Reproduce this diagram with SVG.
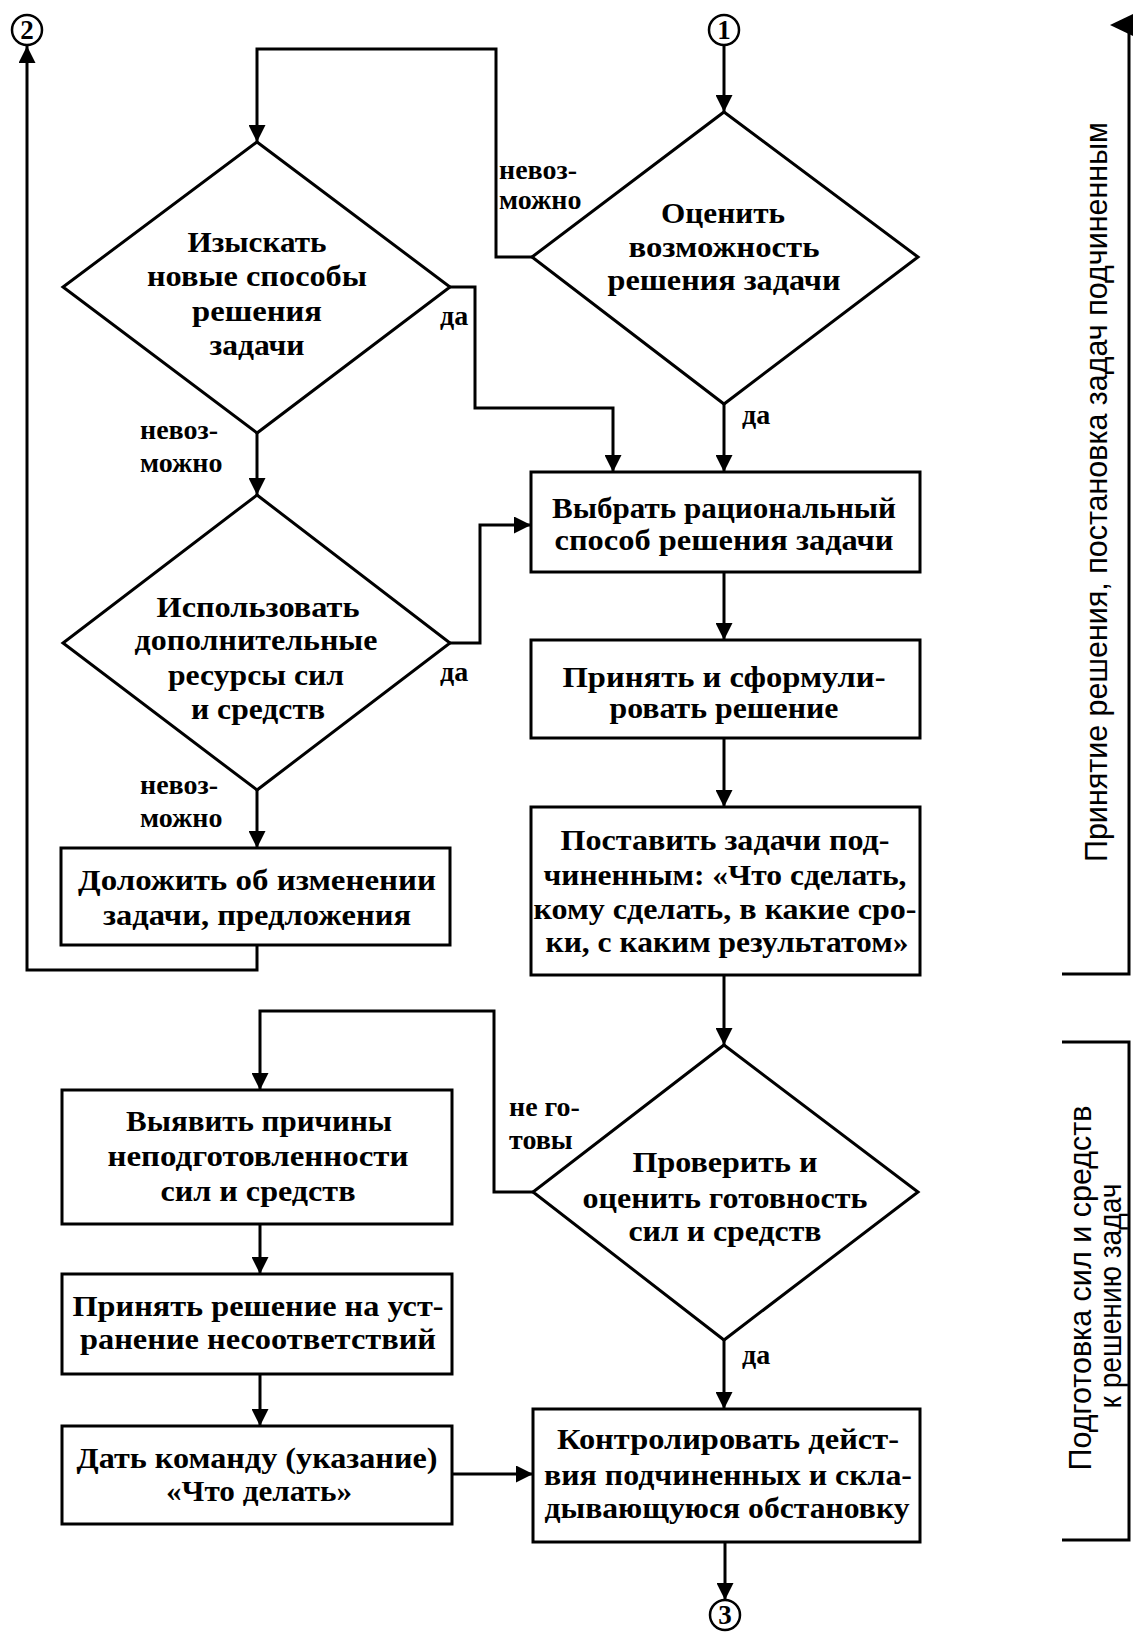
<svg xmlns="http://www.w3.org/2000/svg" width="1133" height="1633" viewBox="0 0 1133 1633">
<style>
.shape{fill:#fff;stroke:#000;stroke-width:3}
.con{fill:none;stroke:#000;stroke-width:3}
.t{font-family:"Liberation Serif","Times New Roman",serif;font-size:30px;font-weight:bold;fill:#000;text-anchor:middle}
.lbl{font-family:"Liberation Serif","Times New Roman",serif;font-size:28px;font-weight:bold;fill:#000}
.side{font-family:"Liberation Sans",Arial,sans-serif;font-size:31px;fill:#000;text-anchor:middle}
.circ{fill:#fff;stroke:#000;stroke-width:2.5}
.num{font-family:"Liberation Serif","Times New Roman",serif;font-size:27px;font-weight:bold;fill:#000;text-anchor:middle}
</style>
<defs>
<marker id="arr" viewBox="0 0 10 10" refX="10" refY="5" markerUnits="userSpaceOnUse" markerWidth="17" markerHeight="17" orient="auto">
<path d="M0,0 L10,5 L0,10 z" fill="#000"/>
</marker>
</defs>
<rect width="1133" height="1633" fill="#fff"/>

<g id="connectors">
<path class="con" d="M724,45 L724,112" marker-end="url(#arr)"/>
<path class="con" d="M532,257 L496,257 L496,49 L257,49 L257,142" marker-end="url(#arr)"/>
<path class="con" d="M724,404 L724,472" marker-end="url(#arr)"/>
<path class="con" d="M450,287 L475,287 L475,408 L613,408 L613,472" marker-end="url(#arr)"/>
<path class="con" d="M257,433 L257,495" marker-end="url(#arr)"/>
<path class="con" d="M450,643 L480,643 L480,525 L531,525" marker-end="url(#arr)"/>
<path class="con" d="M257,790 L257,848" marker-end="url(#arr)"/>
<path class="con" d="M257,945 L257,970 L27,970 L27,46" marker-end="url(#arr)"/>
<path class="con" d="M724,572 L724,640" marker-end="url(#arr)"/>
<path class="con" d="M724,738 L724,807" marker-end="url(#arr)"/>
<path class="con" d="M724,975 L724,1045" marker-end="url(#arr)"/>
<path class="con" d="M533,1192 L494,1192 L494,1011 L260,1011 L260,1090" marker-end="url(#arr)"/>
<path class="con" d="M724,1340 L724,1409" marker-end="url(#arr)"/>
<path class="con" d="M260,1224 L260,1274" marker-end="url(#arr)"/>
<path class="con" d="M260,1374 L260,1426" marker-end="url(#arr)"/>
<path class="con" d="M452,1474 L533,1474" marker-end="url(#arr)"/>
<path class="con" d="M725,1542 L725,1600" marker-end="url(#arr)"/>
<text class="lbl" x="499" y="179">невоз-</text>
<text class="lbl" x="499" y="209">можно</text>
<text class="lbl" x="440" y="325">да</text>
<text class="lbl" x="742" y="424">да</text>
<text class="lbl" x="140" y="439">невоз-</text>
<text class="lbl" x="140" y="472">можно</text>
<text class="lbl" x="440" y="681">да</text>
<text class="lbl" x="140" y="794">невоз-</text>
<text class="lbl" x="140" y="827">можно</text>
<text class="lbl" x="509" y="1116">не го-</text>
<text class="lbl" x="509" y="1149">товы</text>
<text class="lbl" x="742" y="1364">да</text>
</g>

<g id="c2"><circle class="circ" cx="27" cy="30" r="15"/><text class="num" x="27" y="39">2</text></g>
<g id="c1"><circle class="circ" cx="724" cy="30" r="15"/><text class="num" x="724" y="39">1</text></g>
<g id="c3"><circle class="circ" cx="725" cy="1615" r="15"/><text class="num" x="725" y="1624">3</text></g>

<g id="n_search">
<polygon class="shape" points="257,142 450,287 257,433 63,287"/>
<text class="t" x="257" y="252" textLength="139" lengthAdjust="spacingAndGlyphs">Изыскать</text>
<text class="t" x="257" y="286" textLength="220" lengthAdjust="spacingAndGlyphs">новые способы</text>
<text class="t" x="257" y="321" textLength="130" lengthAdjust="spacingAndGlyphs">решения</text>
<text class="t" x="257" y="355" textLength="95" lengthAdjust="spacingAndGlyphs">задачи</text>
</g>

<g id="n_assess">
<polygon class="shape" points="724,112 918,257 724,404 532,257"/>
<text class="t" x="723" y="223" textLength="124" lengthAdjust="spacingAndGlyphs">Оценить</text>
<text class="t" x="724" y="257" textLength="191" lengthAdjust="spacingAndGlyphs">возможность</text>
<text class="t" x="724" y="290" textLength="233" lengthAdjust="spacingAndGlyphs">решения задачи</text>
</g>

<g id="n_choose">
<rect class="shape" x="531" y="472" width="389" height="100"/>
<text class="t" x="724" y="518" textLength="344" lengthAdjust="spacingAndGlyphs">Выбрать рациональный</text>
<text class="t" x="724" y="550" textLength="339" lengthAdjust="spacingAndGlyphs">способ решения задачи</text>
</g>

<g id="n_use">
<polygon class="shape" points="257,495 450,643 257,790 63,643"/>
<text class="t" x="258" y="617" textLength="203" lengthAdjust="spacingAndGlyphs">Использовать</text>
<text class="t" x="256" y="650" textLength="243" lengthAdjust="spacingAndGlyphs">дополнительные</text>
<text class="t" x="256" y="685" textLength="176" lengthAdjust="spacingAndGlyphs">ресурсы сил</text>
<text class="t" x="258" y="719" textLength="134" lengthAdjust="spacingAndGlyphs">и средств</text>
</g>

<g id="n_decide">
<rect class="shape" x="531" y="640" width="389" height="98"/>
<text class="t" x="724" y="687" textLength="323" lengthAdjust="spacingAndGlyphs">Принять и сформули-</text>
<text class="t" x="724" y="718" textLength="229" lengthAdjust="spacingAndGlyphs">ровать решение</text>
</g>

<g id="n_report">
<rect class="shape" x="61" y="848" width="389" height="97"/>
<text class="t" x="257" y="890" textLength="358" lengthAdjust="spacingAndGlyphs">Доложить об изменении</text>
<text class="t" x="257" y="925" textLength="308" lengthAdjust="spacingAndGlyphs">задачи, предложения</text>
</g>

<g id="n_assign">
<rect class="shape" x="531" y="807" width="389" height="168"/>
<text class="t" x="725" y="850" textLength="329" lengthAdjust="spacingAndGlyphs">Поставить задачи под-</text>
<text class="t" x="725" y="885" textLength="363" lengthAdjust="spacingAndGlyphs">чиненным: «Что сделать,</text>
<text class="t" x="725" y="919" textLength="383" lengthAdjust="spacingAndGlyphs">кому сделать, в какие сро-</text>
<text class="t" x="727" y="952" textLength="363" lengthAdjust="spacingAndGlyphs">ки, с каким результатом»</text>
</g>

<g id="n_check">
<polygon class="shape" points="724,1045 918,1192 724,1340 533,1192"/>
<text class="t" x="725" y="1172" textLength="185" lengthAdjust="spacingAndGlyphs">Проверить и</text>
<text class="t" x="725" y="1208" textLength="285" lengthAdjust="spacingAndGlyphs">оценить готовность</text>
<text class="t" x="725" y="1241" textLength="193" lengthAdjust="spacingAndGlyphs">сил и средств</text>
</g>

<g id="n_reveal">
<rect class="shape" x="62" y="1090" width="390" height="134"/>
<text class="t" x="259" y="1131" textLength="266" lengthAdjust="spacingAndGlyphs">Выявить причины</text>
<text class="t" x="258" y="1166" textLength="301" lengthAdjust="spacingAndGlyphs">неподготовленности</text>
<text class="t" x="258" y="1201" textLength="195" lengthAdjust="spacingAndGlyphs">сил и средств</text>
</g>

<g id="n_fix">
<rect class="shape" x="62" y="1274" width="390" height="100"/>
<text class="t" x="258" y="1316" textLength="371" lengthAdjust="spacingAndGlyphs">Принять решение на уст-</text>
<text class="t" x="258" y="1349" textLength="356" lengthAdjust="spacingAndGlyphs">ранение несоответствий</text>
</g>

<g id="n_command">
<rect class="shape" x="62" y="1426" width="390" height="98"/>
<text class="t" x="257" y="1468" textLength="361" lengthAdjust="spacingAndGlyphs">Дать команду (указание)</text>
<text class="t" x="259" y="1501" textLength="186" lengthAdjust="spacingAndGlyphs">«Что делать»</text>
</g>

<g id="n_control">
<rect class="shape" x="533" y="1409" width="387" height="133"/>
<text class="t" x="728" y="1449" textLength="342" lengthAdjust="spacingAndGlyphs">Контролировать дейст-</text>
<text class="t" x="728" y="1485" textLength="368" lengthAdjust="spacingAndGlyphs">вия подчиненных и скла-</text>
<text class="t" x="727" y="1518" textLength="365" lengthAdjust="spacingAndGlyphs">дывающуюся обстановку</text>
</g>

<g id="bracket1">
<path class="con" d="M1129,25 L1129,974 L1062,974"/>
<polygon points="1110,25 1133,14 1133,36" fill="#000"/>
<text class="side" transform="translate(1107,492) rotate(-90)" textLength="740" lengthAdjust="spacingAndGlyphs">Принятие решения, постановка задач подчиненным</text>
</g>

<g id="bracket2">
<path class="con" d="M1062,1042 L1129,1042 L1129,1540 L1062,1540"/>
<text class="side" transform="translate(1091,1288) rotate(-90)" textLength="365" lengthAdjust="spacingAndGlyphs">Подготовка сил и средств</text>
<text class="side" transform="translate(1121,1296) rotate(-90)" textLength="225" lengthAdjust="spacingAndGlyphs">к решению задач</text>
</g>
</svg>
